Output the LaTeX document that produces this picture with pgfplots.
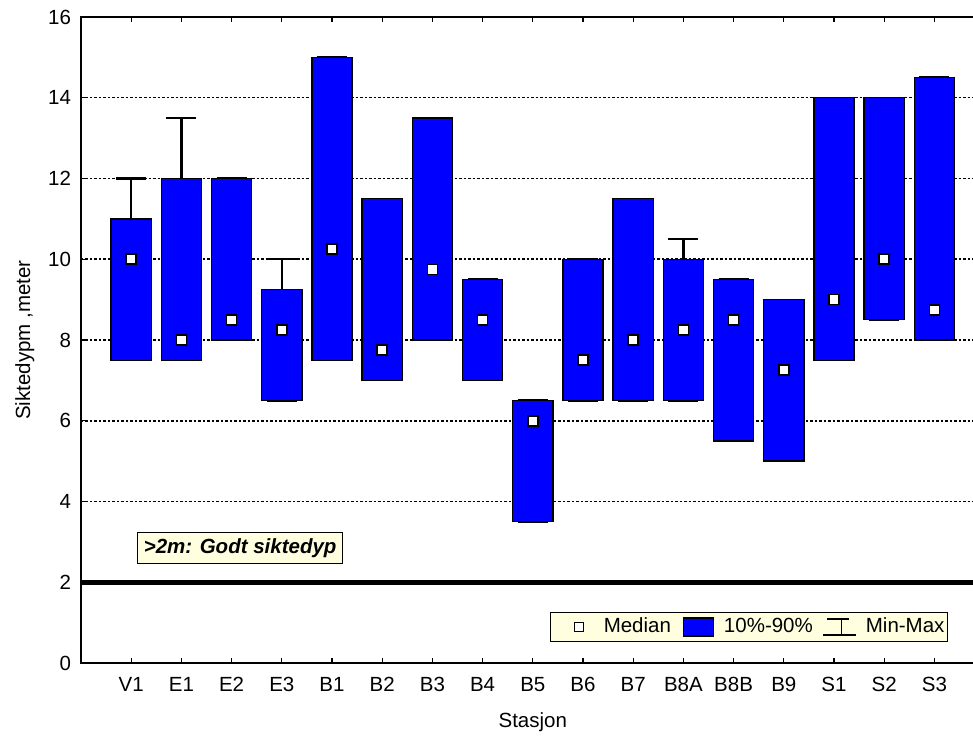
\documentclass[border=0pt]{standalone}
\usepackage{pgfplots}
\pgfplotsset{compat=1.18}
\usepgfplotslibrary{statistics}
\usepackage{fontspec}
\setmainfont{Liberation Sans}
\definecolor{lightyel}{HTML}{FFFFE0}

\pgfplotsset{
  box/.style={forget plot, fill=blue, draw=black, line width=1.3pt},
}

\begin{document}
\fontsize{20.5}{24}\selectfont
\begin{tikzpicture}
\begin{axis}[
  width=903.6pt, height=646pt, scale only axis,
  xmin=-1, xmax=17, ymin=0, ymax=16,
  xtick={0,...,16},
  xticklabels={V1,E1,E2,E3,B1,B2,B3,B4,B5,B6,B7,B8A,B8B,B9,S1,S2,S3},
  ytick={0,2,...,16},
  /pgf/number format/assume math mode=true,
  xticklabel style={yshift=-7pt},
  yticklabel style={xshift=-3pt},
  ymajorgrids,
  grid style={black, line width=1.5pt, dash pattern=on 2.5pt off 2pt},
  axis line style={line width=1.5pt},
  major tick length=5pt,
  tick style={black, line width=1.2pt},
  xlabel={Stasjon}, ylabel={Siktedypm ,meter},
  xlabel style={yshift=-7pt},
  ylabel style={yshift=0pt},
  boxplot/draw direction=y,
  boxplot/box extend=0.8,
  boxplot/whisker extend=0.6,
  boxplot/draw/median/.code={},
  boxplot/every whisker/.style={black, line width=2.2pt},
  clip=false,
  legend columns=-1,
  legend style={at={(axis cs:16.27,0.52)}, anchor=south east,
    fill=lightyel, draw=black, line width=1pt,
    inner xsep=3pt, inner ysep=5pt, column sep=0pt,
    nodes={inner sep=0pt}},
]
\addplot[box, boxplot prepared={draw position=0, lower whisker=7.5, lower quartile=7.5, median=10, upper quartile=11, upper whisker=12}] coordinates {};
\addplot[box, boxplot prepared={draw position=1, lower whisker=7.5, lower quartile=7.5, median=8, upper quartile=12, upper whisker=13.5}] coordinates {};
\addplot[box, boxplot prepared={draw position=2, lower whisker=8, lower quartile=8, median=8.5, upper quartile=12, upper whisker=12}] coordinates {};
\addplot[box, boxplot prepared={draw position=3, lower whisker=6.5, lower quartile=6.5, median=8.25, upper quartile=9.25, upper whisker=10}] coordinates {};
\addplot[box, boxplot prepared={draw position=4, lower whisker=7.5, lower quartile=7.5, median=10.25, upper quartile=15, upper whisker=15}] coordinates {};
\addplot[box, boxplot prepared={draw position=5, lower whisker=7, lower quartile=7, median=7.75, upper quartile=11.5, upper whisker=11.5}] coordinates {};
\addplot[box, boxplot prepared={draw position=6, lower whisker=8, lower quartile=8, median=9.75, upper quartile=13.5, upper whisker=13.5}] coordinates {};
\addplot[box, boxplot prepared={draw position=7, lower whisker=7, lower quartile=7, median=8.5, upper quartile=9.5, upper whisker=9.5}] coordinates {};
\addplot[box, boxplot prepared={draw position=8, lower whisker=3.5, lower quartile=3.5, median=6, upper quartile=6.5, upper whisker=6.5}] coordinates {};
\addplot[box, boxplot prepared={draw position=9, lower whisker=6.5, lower quartile=6.5, median=7.5, upper quartile=10, upper whisker=10}] coordinates {};
\addplot[box, boxplot prepared={draw position=10, lower whisker=6.5, lower quartile=6.5, median=8, upper quartile=11.5, upper whisker=11.5}] coordinates {};
\addplot[box, boxplot prepared={draw position=11, lower whisker=6.5, lower quartile=6.5, median=8.25, upper quartile=10, upper whisker=10.5}] coordinates {};
\addplot[box, boxplot prepared={draw position=12, lower whisker=5.5, lower quartile=5.5, median=8.5, upper quartile=9.5, upper whisker=9.5}] coordinates {};
\addplot[box, boxplot prepared={draw position=13, lower whisker=5, lower quartile=5, median=7.25, upper quartile=9, upper whisker=9}] coordinates {};
\addplot[box, boxplot prepared={draw position=14, lower whisker=7.5, lower quartile=7.5, median=9, upper quartile=14, upper whisker=14}] coordinates {};
\addplot[box, boxplot prepared={draw position=15, lower whisker=8.5, lower quartile=8.5, median=10, upper quartile=14, upper whisker=14}] coordinates {};
\addplot[box, boxplot prepared={draw position=16, lower whisker=8, lower quartile=8, median=8.75, upper quartile=14.5, upper whisker=14.5}] coordinates {};

% medians
\addplot[forget plot, only marks, mark=square*, mark size=5pt,
  mark options={fill=white, draw=black, line width=1.6pt}] coordinates {
  (0,10) (1,8) (2,8.5) (3,8.25) (4,10.25) (5,7.75) (6,9.75) (7,8.5) (8,6)
  (9,7.5) (10,8) (11,8.25) (12,8.5) (13,7.25) (14,9) (15,10) (16,8.75)};

% 2 m limit
\addplot[forget plot, black, line width=4.5pt] coordinates {(-1,2) (17,2)};

\node[fill=lightyel, draw=black, line width=1pt, inner xsep=6pt, inner ysep=6pt,
  font=\bfseries\itshape] at (axis cs:2.17,2.84) {>2m: Godt siktedyp};

\addlegendimage{legend image code/.code={
  \path (0pt,0pt) (49pt,0pt);
  \draw[fill=white, line width=1.5pt] (20pt,-4.5pt) rectangle (29pt,4.5pt);}}
\addlegendentry{Median}
\addlegendimage{legend image code/.code={
  \path (0pt,0pt) (52pt,0pt);
  \draw[fill=blue, line width=1.2pt] (12pt,-9pt) rectangle (42pt,9pt);}}
\addlegendentry{10\%-90\%}
\addlegendimage{legend image code/.code={
  \path (0pt,0pt) (52pt,0pt);
  \draw[line width=1.6pt] (10pt,-8pt) -- (43pt,-8pt) (14pt,8pt) -- (36pt,8pt)
    (28pt,8pt) -- (28pt,-8pt);}}
\addlegendentry{Min-Max}
\end{axis}
\pgfresetboundingbox
\path[use as bounding box] ([xshift=-81pt,yshift=17pt]current axis.north west)
  rectangle ([xshift=892pt,yshift=-73pt]current axis.south west);
\end{tikzpicture}
\end{document}
